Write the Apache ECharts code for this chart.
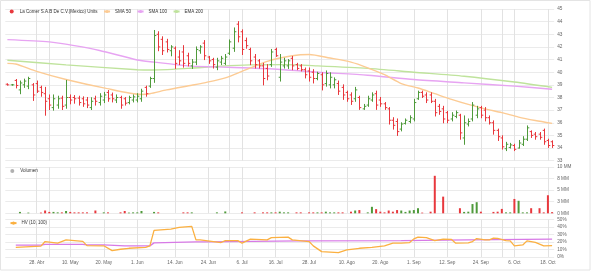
<!DOCTYPE html>
<html><head><meta charset="utf-8">
<script src="https://cdn.jsdelivr.net/npm/echarts@6/dist/echarts.min.js"></script>
<style>html,body{margin:0;padding:0;background:#fff}#c{width:591px;height:274px}</style>
</head><body><div id="c"></div>
<script>
// ---- data ----
const firstDay = '2021-04-19', lastDay = '2021-10-19';
const holidays = ['2021-09-16'];
const tickDates = ['2021-04-28','2021-05-10','2021-05-20','2021-06-01','2021-06-14','2021-06-24','2021-07-06','2021-07-16','2021-07-28','2021-08-10','2021-08-20','2021-09-01','2021-09-13','2021-09-24','2021-10-06','2021-10-18'];
const tickLabels = ['28. Abr','10. May','20. May','1. Jun','14. Jun','24. Jun','6. Jul','16. Jul','28. Jul','10. Ago','20. Ago','1. Sep','12. Sep','24. Sep','6. Oct','18. Oct'];
const priceName = 'La Comer S.A.B De C.V.(Mexico) Units';

const priceOpen = [39.05,39.0,39.35,38.6,39.0,38.9,39.0,39.1,38.8,38.3,
37.9,37.2,37.4,37.95,37.4,38.0,38.0,37.95,37.9,37.8,
37.2,37.9,37.6,37.8,38.4,38.2,37.8,38.0,37.9,37.6,
37.8,37.8,37.9,38.8,38.9,39.5,43.0,42.6,42.4,41.7,
41.9,41.2,41.6,41.3,40.5,40.8,41.7,42.3,41.2,41.0,
40.4,40.8,40.7,41.5,41.9,43.8,43.2,42.5,41.8,41.2,
40.9,40.5,40.3,40.6,41.8,39.6,40.5,40.5,41.1,40.6,
40.5,40.2,40.1,40.0,39.5,39.8,39.1,39.0,39.0,39.1,
38.8,38.4,38.2,37.9,38.0,37.1,37.4,37.8,38.3,37.8,
37.5,37.1,36.2,36.1,35.5,35.95,36.1,36.3,37.9,38.4,
38.2,38.2,37.7,37.3,37.1,36.8,36.3,36.5,36.6,34.8,
35.9,36.3,36.6,37.2,37.0,36.4,36.0,35.4,34.8,33.95,
34.05,34.2,34.0,34.3,34.7,35.3,35.1,35.1,35.4,34.6,
34.5];
const priceHigh = [39.08,39.03,39.42,39.3,39.45,39.6,39.1,39.3,38.9,38.8,
38.2,38.2,38.1,38.1,39.35,38.2,38.15,38.1,38.05,38.0,
37.98,38.1,38.3,38.4,38.55,38.35,38.2,38.1,38.0,38.1,
38.2,38.3,38.65,38.9,39.6,43.3,43.2,42.8,42.6,42.1,
42.0,41.7,42.1,41.5,41.0,42.0,42.1,42.5,41.25,41.1,
41.1,41.25,41.4,42.55,43.5,44.0,43.35,42.7,41.9,41.4,
41.0,40.7,40.6,41.8,41.9,41.4,41.1,41.0,41.25,40.7,
40.6,40.33,40.33,40.2,40.0,39.95,40.1,39.95,39.55,39.3,
39.0,38.5,38.37,38.8,38.1,37.45,38.1,38.37,38.5,38.0,
37.6,37.2,36.4,36.3,36.0,36.3,36.55,37.85,38.5,38.5,
38.37,38.37,37.85,37.45,37.3,36.9,36.8,36.93,36.67,36.54,
36.3,37.6,37.3,37.3,37.2,36.54,36.15,35.5,34.97,34.45,
34.37,34.3,34.6,34.9,35.75,35.36,35.23,35.23,35.5,34.7,
34.57];
const priceLow = [38.98,38.97,38.76,38.3,38.8,38.7,37.77,38.4,38.1,36.6,
37.05,37.0,37.15,37.05,37.15,37.5,37.55,37.4,37.3,37.2,
37.05,37.4,37.4,37.6,37.7,37.65,37.6,37.15,37.4,37.5,
37.65,37.65,37.7,38.1,38.8,39.2,41.7,41.4,41.6,41.3,
40.3,40.6,40.4,40.5,40.3,40.6,41.5,41.0,40.7,40.33,
40.2,40.6,40.6,41.4,41.65,42.4,41.4,41.9,40.6,40.33,
40.33,39.0,39.4,40.46,41.25,39.3,40.33,40.3,40.2,40.2,
40.1,39.55,39.3,39.15,39.4,38.6,38.9,38.76,38.76,38.24,
37.85,37.7,37.45,37.7,37.06,37.06,37.3,37.7,37.06,37.3,
37.06,35.9,35.5,35.0,35.36,35.9,36.0,36.15,37.85,38.0,
37.6,37.6,36.54,36.67,36.0,36.0,36.15,36.4,34.7,34.3,
35.75,36.15,36.4,36.4,36.15,35.9,35.1,34.6,33.92,33.8,
34.0,33.8,34.0,34.2,34.6,34.84,34.7,34.7,34.3,34.05,
34.05];
const priceClose = [39.0,39.0,38.95,39.15,39.3,39.5,38.2,38.5,38.4,37.7,
37.4,37.9,37.9,37.3,38.0,37.8,37.9,37.6,37.5,37.4,
37.7,37.7,38.1,38.2,37.9,37.9,38.0,37.4,37.55,38.0,
38.05,38.1,38.5,38.3,39.5,42.9,42.0,41.7,41.8,42.0,
40.7,40.9,40.7,40.7,40.8,41.8,42.0,41.3,40.9,40.6,
40.9,41.1,41.2,42.4,43.2,42.8,41.8,42.1,40.9,40.6,
40.5,39.5,39.7,41.6,41.3,40.8,40.9,40.9,40.5,40.3,
40.2,39.8,39.6,39.5,39.9,39.0,39.9,39.6,39.4,38.5,
38.2,37.9,37.7,38.6,37.2,37.3,37.9,38.2,37.4,37.5,
37.2,36.2,35.8,35.3,35.9,36.2,36.4,37.6,38.4,38.1,
37.8,37.7,36.8,36.9,36.3,36.2,36.6,36.8,35.2,36.0,
36.1,37.4,37.1,36.6,36.4,36.0,35.4,34.9,34.1,34.3,
34.25,33.9,34.4,34.7,35.6,35.0,34.9,34.85,34.5,34.2,
34.2];
// volume, millions
const volume = [0,0,0,0.3,0,0.15,0,0,0.15,0.6,
0.3,0.3,0.2,0.2,0.5,0.3,0.2,0.2,0.2,0.2,
0,0.6,0,0.2,0.2,0,0,0.2,0.5,0.15,
0.2,0.2,0.5,0,0,0.3,0.2,0,0,0,
0,0,0.2,0.2,0.2,0,0,0,0,0,
0.2,0,0.4,0,0,0,0.2,0,0,0.2,
0,0.2,0.2,0.2,0.2,0.35,0.2,0.2,0,0.2,
0.2,0,0.2,0.2,0.2,0.2,0.35,0.2,0.2,0.2,
0.2,0,0.35,0.6,0.7,0,0.2,1.4,0.9,0.35,
0.2,0.6,0.35,0.7,0.6,0.3,0.6,0.7,1.1,0.15,
0,0.35,8.1,0,3.6,0,0,0,1.1,0.3,
0.35,2.0,2.4,0.35,0,0,0.3,0.35,0.95,0.2,
0.2,3.1,2.7,0.2,0.2,1.1,0,1.1,0.2,3.9,
0.25];
// moving averages: [bar index, value]
const sma50 = [[0,40.7],[2,40.65],[7,40.07],[14,39.42],[23,38.76],[32,38.24],[34,38.3],[38,38.6],[44,38.97],[47,39.16],[52,39.55],[57,40.2],[62,40.86],[68,41.3],[72,41.4],[77,41.12],[82,40.8],[86,40.35],[90,39.8],[94,39.1],[98,38.75],[102,38.3],[106,37.85],[110,37.45],[114,37.1],[118,36.8],[122,36.45],[126,36.18],[130,35.95]];
const sma100 = [[0,42.58],[10,42.4],[16,42.1],[22,41.72],[31,40.97],[35,40.8],[43,40.5],[50,40.42],[58,40.33],[66,40.2],[74,40.0],[86,39.76],[97,39.42],[109,39.16],[121,38.9],[130,38.65]];
const ema200 = [[0,40.95],[14,40.58],[31,40.2],[34,40.17],[43,40.3],[51,40.48],[58,40.58],[66,40.6],[74,40.5],[86,40.3],[97,40.0],[109,39.68],[121,39.22],[130,38.8]];
// historical volatility, %
const hv10 = [[2,13],[8,14.5],[9,20.7],[12,18.5],[14,23],[18,21],[19,15.3],[23,15],[25,8.6],[27,10.4],[29,11.7],[33,13],[34,14.9],[35,35.6],[39,37.4],[41,39.6],[44,41],[45,23],[46,23],[51,19.4],[52,22],[55,22],[56,18.5],[58,23.9],[62,23],[63,26],[67,26.6],[68,23],[72,20.7],[73,14.9],[75,7.2],[79,5.9],[81,9.5],[84,11.7],[87,13],[90,14.9],[92,18.5],[94,18.5],[96,19.4],[97,24.3],[98,26.6],[100,26],[102,22],[104,23.9],[106,23.5],[107,18.5],[110,19],[111,20.7],[112,24.7],[114,23],[115,23],[116,25.2],[117,25],[119,22],[120,21.6],[121,14.9],[123,16.2],[124,21.6],[126,19.5],[128,14.9],[130,15.3]];
const hv100 = [[2,15.8],[8,15.8],[9,17],[18,17],[19,16.2],[23,16.2],[28,14.9],[34,14.9],[35,18.9],[45,20.3],[47,20.3],[70,21.6],[94,22],[110,23],[130,23.9]];

// ---- build ----
function tradingDays(a, b, skip) {
  const out = [];
  const d = new Date(a + 'T00:00:00Z'), end = new Date(b + 'T00:00:00Z');
  while (d <= end) {
    const w = d.getUTCDay(), s = d.toISOString().slice(0, 10);
    if (w !== 0 && w !== 6 && skip.indexOf(s) < 0) out.push(s);
    d.setUTCDate(d.getUTCDate() + 1);
  }
  return out;
}
const categories = tradingDays(firstDay, lastDay, holidays);
const labelOf = {};
tickDates.forEach((d, k) => { labelOf[d] = tickLabels[k]; });
const monthStart = new Set();
categories.forEach((d, i) => { if (i > 0 && d.slice(5, 7) !== categories[i - 1].slice(5, 7)) monthStart.add(i); });
const isTick = (i) => labelOf[categories[i]] !== undefined;
const isGrid = (i) => isTick(i) || monthStart.has(i);

const UP = '#4f9a3b', DOWN = '#e8383d';
const ohlcData = categories.map((d, i) => [i, priceOpen[i], priceClose[i], priceLow[i], priceHigh[i]]);
const volData = volume.map((v, i) => ({ value: v, itemStyle: { color: priceClose[i] >= priceOpen[i] ? UP : DOWN } }));

function renderBar(params, api) {
  const i = api.value(0), o = api.value(1), c = api.value(2), l = api.value(3), h = api.value(4);
  const top = api.coord([i, h]), bot = api.coord([i, l]);
  const yo = api.coord([i, o])[1], yc = api.coord([i, c])[1];
  const x = Math.round(top[0]) + 0.5;
  const st = { stroke: c >= o ? UP : DOWN, lineWidth: 1 };
  return { type: 'group', children: [
    { type: 'line', shape: { x1: x, y1: top[1] - 0.5, x2: x, y2: bot[1] + 0.5 }, style: st },
    { type: 'line', shape: { x1: x - 1.8, y1: yo, x2: x, y2: yo }, style: st },
    { type: 'line', shape: { x1: x, y1: yc, x2: x + 1.8, y2: yc }, style: st }
  ]};
}

const FONT = 'Liberation Sans, Arial, sans-serif';
const gridL = 5.3, gridW = 548.9;
function xAxisFor(g, showLabels) {
  return {
    type: 'category', gridIndex: g, data: categories, boundaryGap: true,
    axisLine: { show: false }, axisTick: { show: false, alignWithLabel: true },
    splitLine: { show: true, alignWithLabel: true, interval: (i) => isGrid(i), lineStyle: { color: '#e2e2e2', width: 1 } },
    axisLabel: showLabels ? { show: true, interval: (i) => isTick(i), formatter: (v) => labelOf[v] || '', fontSize: 4.7, color: '#666', margin: 3, fontFamily: FONT } : { show: false }
  };
}
function yAxisFor(g, min, max, interval, fmt) {
  return {
    type: 'value', gridIndex: g, position: 'right', min: min, max: max, interval: interval,
    axisLine: { show: false }, axisTick: { show: false },
    splitLine: { show: true, lineStyle: { color: '#ebebeb', width: 1 } },
    axisLabel: { fontSize: 4.7, color: '#666', margin: 3, fontFamily: FONT, formatter: fmt }
  };
}
const legendText = { fontSize: 4.5, color: '#333', fontFamily: FONT };

const option = {
  animation: false,
  backgroundColor: '#fff',
  textStyle: { fontFamily: FONT },
  graphic: [{ type: 'rect', silent: true, z: -10, shape: { x: 0.5, y: 0.5, width: 589.5, height: 269.5 }, style: { fill: 'none', stroke: '#e4e4e4', lineWidth: 1 } }],
  legend: [
    { left: 9.7, top: 9, padding: 0, itemWidth: 6, itemHeight: 4, itemGap: 5.5, textStyle: legendText,
      data: [{ name: priceName, icon: 'circle' }, 'SMA 50', 'SMA 100', 'EMA 200'] },
    { left: 10.3, top: 168.5, padding: 0, itemWidth: 6, itemHeight: 4, textStyle: legendText,
      data: [{ name: 'Volumen', icon: 'circle', itemStyle: { color: '#b0b0b0' } }] },
    { left: 9.5, top: 220.6, padding: 0, itemWidth: 6, itemHeight: 4, textStyle: legendText,
      data: ['HV (10, 100)'] }
  ],
  grid: [
    { left: gridL, top: 9, width: gridW, height: 151.7 },
    { left: gridL, top: 167, width: gridW, height: 46.3 },
    { left: gridL, top: 219.7, width: gridW, height: 37.3 }
  ],
  xAxis: [xAxisFor(0, false), xAxisFor(1, false), xAxisFor(2, true)],
  yAxis: [
    yAxisFor(0, 33, 45, 1, (v) => String(v)),
    yAxisFor(1, 0, 10, 2.5, (v) => Math.round(v) + ' MM'),
    yAxisFor(2, 0, 50, 10, (v) => v + '%')
  ],
  series: [
    { name: 'EMA 200', type: 'line', xAxisIndex: 0, yAxisIndex: 0, data: ema200, symbol: 'none', smooth: 0.25, lineStyle: { color: '#bfe39c', width: 1.4 }, itemStyle: { color: '#bfe39c' }, z: 2 },
    { name: 'SMA 100', type: 'line', xAxisIndex: 0, yAxisIndex: 0, data: sma100, symbol: 'none', smooth: 0.25, lineStyle: { color: '#e7a4f2', width: 1.4 }, itemStyle: { color: '#e7a4f2' }, z: 2 },
    { name: 'SMA 50', type: 'line', xAxisIndex: 0, yAxisIndex: 0, data: sma50, symbol: 'none', smooth: 0.25, lineStyle: { color: '#fccb94', width: 1.4 }, itemStyle: { color: '#fccb94' }, z: 2 },
    { name: priceName, type: 'custom', xAxisIndex: 0, yAxisIndex: 0, data: ohlcData, renderItem: renderBar,
      encode: { x: 0, y: [1, 2, 3, 4] }, itemStyle: { color: DOWN }, z: 3 },
    { name: 'Volumen', type: 'bar', xAxisIndex: 1, yAxisIndex: 1, data: volData, barWidth: 2, itemStyle: { color: '#b0b0b0' } },
    { name: 'HV 100', type: 'line', xAxisIndex: 2, yAxisIndex: 2, data: hv100, symbol: 'none', lineStyle: { color: '#d77ae6', width: 1.3 }, itemStyle: { color: '#d77ae6' } },
    { name: 'HV (10, 100)', type: 'line', xAxisIndex: 2, yAxisIndex: 2, data: hv10, symbol: 'none', lineStyle: { color: '#fbb040', width: 1.3 }, itemStyle: { color: '#fbb040' } }
  ]
};
const chart = echarts.init(document.getElementById('c'), null, { renderer: 'canvas' });
chart.setOption(option);
</script></body></html>
